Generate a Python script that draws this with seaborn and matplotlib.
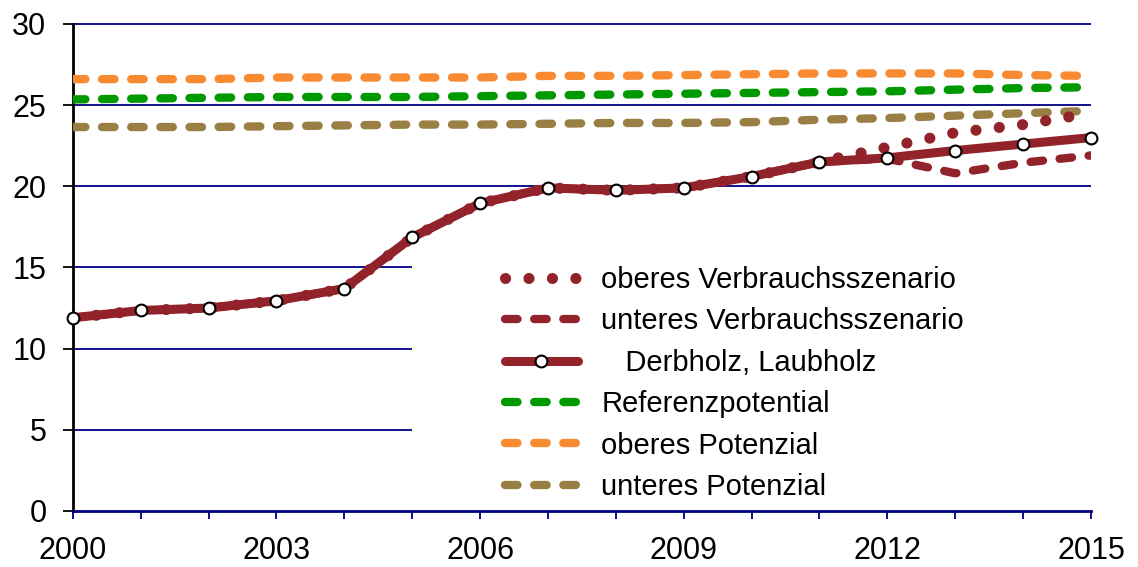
import matplotlib
matplotlib.use('Agg')
import matplotlib.pyplot as plt
import seaborn as sns
import pandas as pd

years = list(range(2000, 2016))
derbholz = [11.9, 12.35, 12.5, 12.95, 13.7, 16.85, 18.95, 19.9, 19.75, 19.9, 20.6, 21.5, 21.75, 22.2, 22.6, 23.0]
oberes_verbrauch = [11.9, 12.35, 12.5, 12.95, 13.7, 16.85, 18.95, 19.9, 19.75, 19.9, 20.6, 21.5, 22.4, 23.3, 23.8, 24.5]
unteres_verbrauch = [11.9, 12.35, 12.5, 12.95, 13.7, 16.85, 18.95, 19.9, 19.75, 19.9, 20.6, 21.5, 21.7, 20.8, 21.45, 21.9]
referenz = [25.35, 25.4, 25.45, 25.5, 25.5, 25.5, 25.55, 25.6, 25.65, 25.7, 25.75, 25.8, 25.85, 25.95, 26.05, 26.1]
oberes_pot = [26.6, 26.6, 26.6, 26.7, 26.7, 26.7, 26.7, 26.8, 26.8, 26.85, 26.9, 26.95, 26.95, 26.95, 26.85, 26.8]
unteres_pot = [23.65, 23.65, 23.65, 23.7, 23.75, 23.8, 23.8, 23.85, 23.9, 23.9, 23.95, 24.1, 24.2, 24.35, 24.5, 24.65]

labels = ['oberes Verbrauchsszenario', 'unteres Verbrauchsszenario', '   Derbholz, Laubholz',
          'Referenzpotential', 'oberes Potenzial', 'unteres Potenzial']

df = pd.DataFrame({'Jahr': years, 'derbholz': derbholz, 'ob_v': oberes_verbrauch, 'unt_v': unteres_verbrauch,
                   'ref': referenz, 'ob_p': oberes_pot, 'unt_p': unteres_pot})

sns.set_theme(style='white')
plt.rcParams['font.family'] = ['Liberation Sans', 'DejaVu Sans']
plt.rcParams['text.color'] = 'black'

red = '#93232A'
navy = '#000080'
dash = (0, (1.5, 2.0))

fig = plt.figure(figsize=(11.38, 5.67), dpi=100)
ax = fig.add_axes([0.064, 0.0988, 0.8947, 0.859])

# grid lines (lower ones hidden behind legend area in original)
ax.hlines([5, 10, 15], 2000, 2005, color=navy, lw=1.3, zorder=1)
ax.hlines([20, 25, 30], 2000, 2015, color=navy, lw=1.3, zorder=1, clip_on=False)

sns.lineplot(data=df, x='Jahr', y='unt_p', ax=ax, color='#997F44', lw=6, linestyle=dash,
             dash_capstyle='round', label=labels[5], zorder=3)
sns.lineplot(data=df, x='Jahr', y='ob_p', ax=ax, color='#F88A32', lw=6, linestyle=dash,
             dash_capstyle='round', label=labels[4], zorder=3)
sns.lineplot(data=df, x='Jahr', y='ref', ax=ax, color='#009900', lw=6, linestyle=dash,
             dash_capstyle='round', label=labels[3], zorder=3)
sns.lineplot(data=df, x='Jahr', y='unt_v', ax=ax, color=red, lw=6, linestyle=dash,
             dash_capstyle='round', label=labels[1], zorder=4)
sns.lineplot(data=df, x='Jahr', y='ob_v', ax=ax, color=red, lw=8, linestyle=(0, (0.01, 2.1)),
             dash_capstyle='round', label=labels[0], zorder=4)
sns.lineplot(data=df, x='Jahr', y='derbholz', ax=ax, color=red, lw=6.5, marker='o', markersize=8.5,
             markerfacecolor='white', markeredgecolor='black', markeredgewidth=1.5,
             label=labels[2], zorder=5, clip_on=False)

ax.set_xlim(2000, 2015)
ax.set_ylim(0, 30)
ax.set_xticks(years, minor=True)
ax.set_xticks(range(2000, 2016, 3))
ax.set_yticks(range(0, 31, 5))
ax.set_xlabel('')
ax.set_ylabel('')

for s in ['top', 'right']:
    ax.spines[s].set_visible(False)
ax.spines['bottom'].set_color(navy)
ax.spines['bottom'].set_linewidth(2)
ax.spines['left'].set_color('black')
ax.spines['left'].set_linewidth(2)

ax.tick_params(axis='y', which='major', direction='out', length=7, width=1.3, color='black',
               labelsize=22, pad=12, left=True, labelcolor='black')
ax.tick_params(axis='x', which='both', direction='out', length=6, width=1.3, color=navy,
               labelsize=22, pad=12, bottom=True, labelcolor='black')

handles, labs = ax.get_legend_handles_labels()
hmap = dict(zip(labs, handles))
leg = ax.legend([hmap[l] for l in labels], labels, loc='upper left',
                bbox_to_anchor=(505 / 1138, 1 - 266 / 567), bbox_transform=fig.transFigure,
                frameon=False, fontsize=21, borderpad=0, handlelength=2.5, handletextpad=0.8,
                labelspacing=0.46, borderaxespad=0)
for t in leg.get_texts():
    t.set_color('black')

fig.savefig('out.png', dpi=100)
